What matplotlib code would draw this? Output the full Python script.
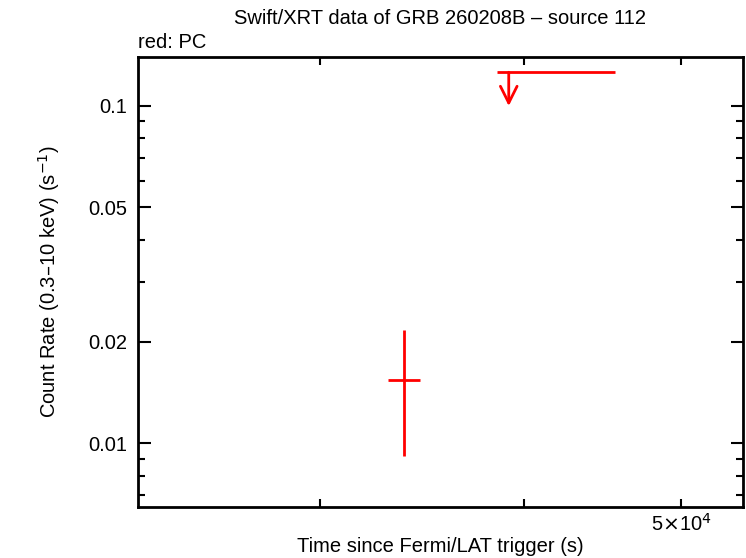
import matplotlib
matplotlib.use('Agg')
import matplotlib.pyplot as plt
from matplotlib.ticker import FixedLocator, NullFormatter, FixedFormatter
import numpy as np

plt.rcParams['font.family'] = ['Liberation Sans', 'DejaVu Sans']

# PC detection (time, errors, rate, errors)
pc_t = [33750.0]
pc_t_lo = [750.0]
pc_t_hi = [790.0]
pc_rate = [0.01537]
pc_rate_lo = [0.00618]
pc_rate_hi = [0.00628]

# PC upper limit
ul_t = [39170.0]
ul_t_lo = [670.0]
ul_t_hi = [6330.0]
ul_rate = [0.1256]

RED = '#ff0000'
FS = 14.5

fig = plt.figure(figsize=(7.46, 5.58), dpi=100)
ax = fig.add_axes([138/746, 1 - 507/558, (743-138)/746, (507-57)/558])

ax.errorbar(pc_t, pc_rate, xerr=[pc_t_lo, pc_t_hi], yerr=[pc_rate_lo, pc_rate_hi],
            fmt='none', ecolor=RED, elinewidth=2, capsize=0)

ax.errorbar(ul_t, ul_rate, xerr=[ul_t_lo, ul_t_hi], fmt='none', ecolor=RED,
            elinewidth=2, capsize=0)
for t, r in zip(ul_t, ul_rate):
    ax.annotate('', xy=(t, r * 10**-0.1), xytext=(t, r),
                arrowprops=dict(arrowstyle='->', color=RED, lw=2,
                                mutation_scale=30, shrinkA=0, shrinkB=0))

ax.set_xscale('log')
ax.set_yscale('log')
ax.set_xlim(23170, 54580)
ax.set_ylim(0.00647, 0.1394)

# x ticks
ax.xaxis.set_major_locator(FixedLocator([5e4]))
ax.xaxis.set_major_formatter(FixedFormatter([r'5$\times$10$^4$']))
ax.xaxis.set_minor_locator(FixedLocator([3e4, 4e4]))
ax.xaxis.set_minor_formatter(NullFormatter())

# y ticks
ax.yaxis.set_major_locator(FixedLocator([0.01, 0.02, 0.05, 0.1]))
ax.yaxis.set_major_formatter(FixedFormatter(['0.01', '0.02', '0.05', '0.1']))
ax.yaxis.set_minor_locator(FixedLocator([0.007, 0.008, 0.009, 0.03, 0.04, 0.06, 0.07, 0.08, 0.09]))
ax.yaxis.set_minor_formatter(NullFormatter())

ax.tick_params(which='both', direction='in', top=True, right=True, width=1.5,
               labelsize=FS, colors='black')
ax.tick_params(axis='y', which='major', length=9, pad=8)
ax.tick_params(axis='y', which='minor', length=5)
ax.tick_params(axis='x', which='both', length=6, pad=4)
for s in ax.spines.values():
    s.set_linewidth(2)

ax.set_xlabel('Time since Fermi/LAT trigger (s)', fontsize=FS, labelpad=2)
ax.set_ylabel('Count Rate (0.3\u201310 keV) (s$^{-1}$)', fontsize=FS, labelpad=19)
fig.text(440/746, 1 - 18/558, 'Swift/XRT data of GRB 260208B \u2013 source 112',
         ha='center', va='center', fontsize=FS)
fig.text(138/746, 1 - 43/558, 'red: PC', ha='left', va='center', fontsize=FS)

fig.savefig('out.png', dpi=100)
